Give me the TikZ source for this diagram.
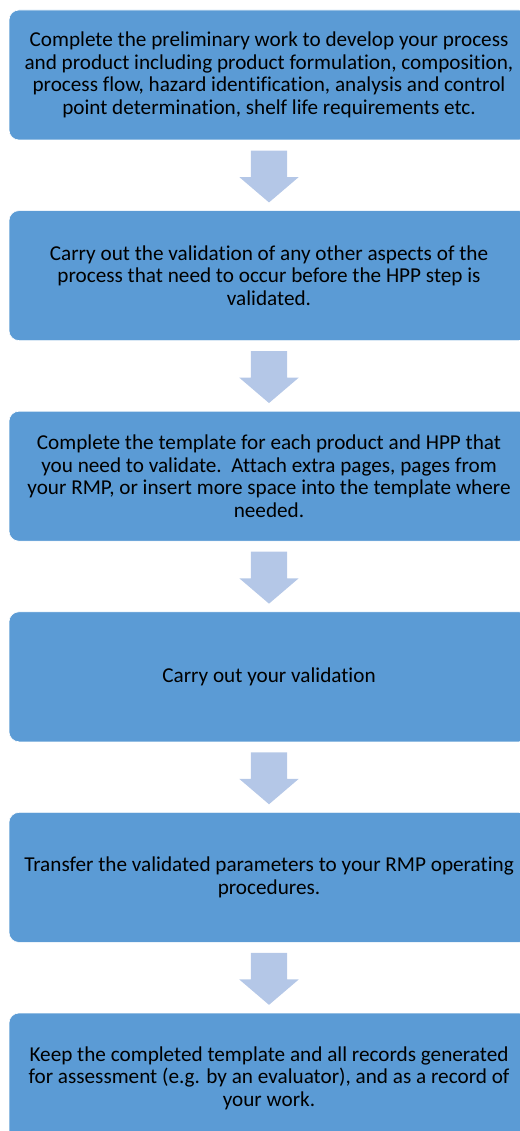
\documentclass[tikz,border=0pt]{standalone}
\usepackage{fontspec}
\setmainfont{Carlito}[Ligatures=NoCommon]
\usetikzlibrary{positioning,shapes.arrows}

\definecolor{boxblue}{HTML}{5B9BD5}
\definecolor{arrowblue}{HTML}{B4C7E7}

\begin{document}
\begin{tikzpicture}[x=1pt,y=1pt,
		stepbox/.style={fill=boxblue,draw=white,line width=0.6pt,rounded corners=10pt,
			minimum width=520pt,minimum height=130pt,align=center,
			font=\fontsize{21.2}{22.6}\selectfont},
		downarrow/.style={single arrow,fill=arrowblue,draw=none,shape border rotate=270,
			inner sep=18pt,minimum height=50pt,single arrow head extend=11.5pt,
			single arrow tip angle=99}
		]
		\useasboundingbox (0,0) rectangle (519,-1131);
		%Draw steps
		\node[stepbox] (prelim) at (269,-75) {Complete the preliminary work to develop your process\\
			and product including product formulation, composition,\\
			process flow, hazard identification, analysis and control\\
			point determination, shelf life requirements etc.};
		\node[stepbox,below=70pt of prelim] (other) {Carry out the validation of any other aspects of the\\
			process that need to occur before the HPP step is\\
			validated.};
		\node[stepbox,below=70pt of other] (template) {Complete the template for each product and HPP that\\
			you need to validate.\ \ Attach extra pages, pages from\\
			your RMP, or insert more space into the template where\\
			needed.};
		\node[stepbox,below=70pt of template] (valid) {Carry out your validation};
		\node[stepbox,below=70pt of valid] (transfer) {Transfer the validated parameters to your RMP operating\\
			procedures.};
		\node[stepbox,below=70pt of transfer] (keep) {Keep the completed template and all records generated\\
			for assessment (e.g. by an evaluator), and as a record of\\
			your work.};
		%Draw arrows
		\node[downarrow,below=10pt of prelim] (a1) {};
		\node[downarrow,below=10pt of other] (a2) {};
		\node[downarrow,below=10pt of template] (a3) {};
		\node[downarrow,below=10pt of valid] (a4) {};
		\node[downarrow,below=10pt of transfer] (a5) {};
	\end{tikzpicture}
\end{document}
